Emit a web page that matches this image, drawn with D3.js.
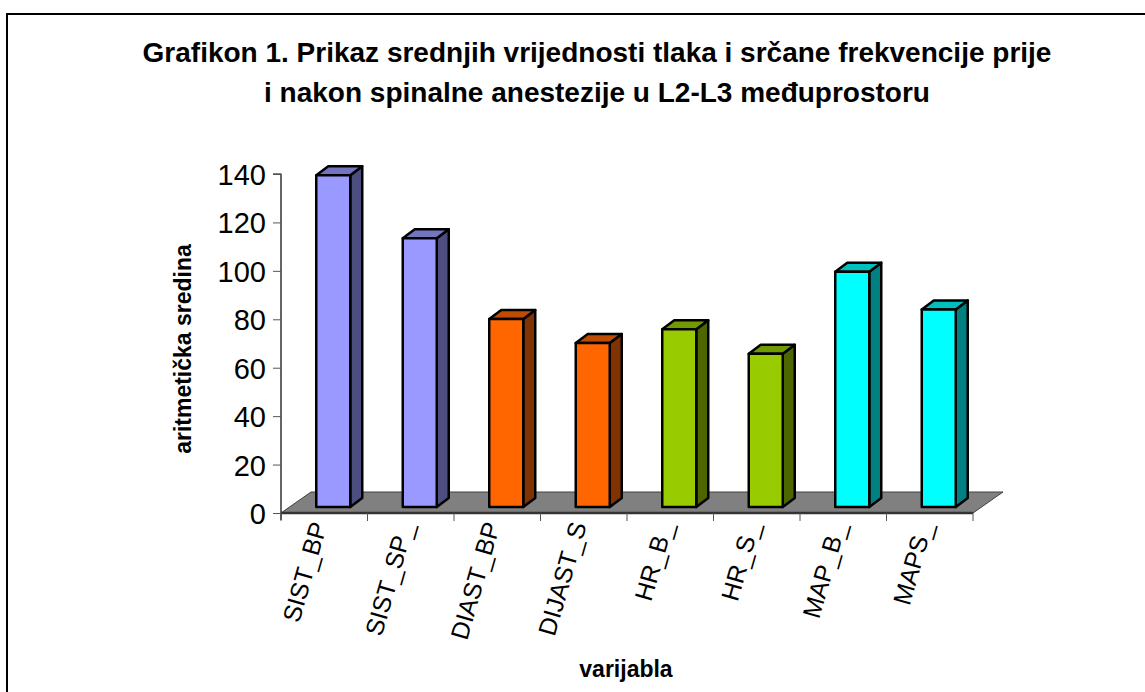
<!DOCTYPE html>
<html>
<head>
<meta charset="utf-8">
<script src="https://cdn.jsdelivr.net/npm/d3@7"></script>
<style>
  body { margin: 0; background: #fff; }
  text { font-family: Arial, "Liberation Sans", sans-serif; }
</style>
</head>
<body>
<div id="chart"></div>
<script>
const categories = ["SIST_BP", "SIST_SP_", "DIAST_BP", "DIJAST_S", "HR_B_", "HR_S_", "MAP_B_", "MAPS_"]
const values = [137, 111, 77.6, 67.7, 73.4, 63.3, 97.2, 81.6]
const yTicks = [0, 20, 40, 60, 80, 100, 120, 140]
const titleLines = ["Grafikon 1. Prikaz srednjih vrijednosti tlaka i srčane frekvencije prije",
                    "i nakon spinalne anestezije u L2-L3 međuprostoru"]

// colour per bar: front, side, top
const palette = [
    {front: "#9999ff", side: "#4d4d80", top: "#7373bf"},
    {front: "#9999ff", side: "#4d4d80", top: "#7373bf"},
    {front: "#ff6600", side: "#803300", top: "#bf4c00"},
    {front: "#ff6600", side: "#803300", top: "#bf4c00"},
    {front: "#99cc00", side: "#4d6600", top: "#739900"},
    {front: "#99cc00", side: "#4d6600", top: "#739900"},
    {front: "#00ffff", side: "#008080", top: "#00bfbf"},
    {front: "#00ffff", side: "#008080", top: "#00bfbf"}
]

const W = 1145, H = 692
const svg = d3.select("#chart").append("svg")
    .attr("width", W)
    .attr("height", H)

// frame
svg.append("rect")
    .attr("x", 7).attr("y", 14)
    .attr("width", W + 20).attr("height", H + 20)
    .attr("fill", "#fff")
    .attr("stroke", "#000")
    .attr("stroke-width", 2)

// title
svg.append("g").selectAll("text")
    .data(titleLines)
    .join("text")
    .attr("x", 597)
    .attr("y", (d, i) => 62 + i * 40)
    .attr("text-anchor", "middle")
    .attr("font-size", 28)
    .attr("font-weight", "bold")
    .text(d => d)

const plotLeft = 281, plotRight = 973, plotBottom = 513, plotTop = 174
// floor depth and bar depth offsets
const depth = {dx: 30, dy: -21}
const barDepth = {dx: 12, dy: -9}
const barShift = {dx: 9, dy: -6}

const xScale = d3.scaleBand()
    .domain(categories)
    .range([plotLeft, plotRight])

const yScale = d3.scaleLinear()
    .domain([0, 140])
    .range([plotBottom, plotTop])

// floor
svg.append("path")
    .attr("d", `M${plotLeft},${plotBottom} L${plotLeft + depth.dx},${plotBottom + depth.dy} L${plotRight + depth.dx},${plotBottom + depth.dy} L${plotRight},${plotBottom} Z`)
    .attr("fill", "#808080")
    .attr("stroke", "#404040")
    .attr("stroke-width", 1)

// Y axis
const yAxis = svg.append("g")
    .attr("transform", `translate(${plotLeft},0)`)
    .call(d3.axisLeft(yScale).tickValues(yTicks).tickSize(8).tickPadding(7))
yAxis.select(".domain").attr("stroke", "#000").attr("stroke-width", 1.2)
    .attr("d", `M-8,${plotTop}H0V${plotBottom + 7}`)
yAxis.selectAll(".tick line").attr("stroke", "#555")
yAxis.selectAll("text")
    .attr("font-size", 29)
    .attr("font-family", "Arial, 'Liberation Sans', sans-serif")
    .attr("fill", "#000")
    .attr("dy", "0.36em")

// X axis
const xAxis = svg.append("g")
    .attr("transform", `translate(0,${plotBottom})`)
xAxis.append("line")
    .attr("x1", plotLeft).attr("x2", plotRight)
    .attr("stroke", "#333").attr("stroke-width", 2.5)
xAxis.selectAll(".xtick")
    .data(d3.range(categories.length + 1))
    .join("line")
    .attr("x1", i => plotLeft + i * xScale.step())
    .attr("x2", i => plotLeft + i * xScale.step())
    .attr("y1", 0).attr("y2", 8)
    .attr("stroke", "#555")

xAxis.selectAll(".xlabel")
    .data(categories)
    .join("text")
    .attr("transform", d => `translate(${xScale(d) + xScale.bandwidth() / 2 + 3},${12}) rotate(-74)`)
    .attr("text-anchor", "end")
    .attr("font-size", 25)
    .text(d => d)

// bars
const barW = 34
const bars = svg.append("g").selectAll("g")
    .data(categories.map((c, i) => ({c, v: values[i], col: palette[i]})))
    .join("g")

bars.each(function(d) {
    const g = d3.select(this)
    const x0 = xScale(d.c) + xScale.bandwidth() / 2 + barShift.dx - barW / 2
    const x1 = x0 + barW
    const yb = plotBottom + barShift.dy
    const yt = yScale(d.v) + barShift.dy
    const ddx = barDepth.dx, ddy = barDepth.dy
    g.append("path")
        .attr("d", `M${x1},${yt} L${x1 + ddx},${yt + ddy} L${x1 + ddx},${yb + ddy} L${x1},${yb} Z`)
        .attr("fill", d.col.side)
    g.append("path")
        .attr("d", `M${x0},${yt} L${x0 + ddx},${yt + ddy} L${x1 + ddx},${yt + ddy} L${x1},${yt} Z`)
        .attr("fill", d.col.top)
    g.append("rect")
        .attr("x", x0).attr("y", yt)
        .attr("width", barW).attr("height", yb - yt)
        .attr("fill", d.col.front)
    g.selectAll("path, rect")
        .attr("stroke", "#000")
        .attr("stroke-width", 2.5)
        .attr("stroke-linejoin", "round")
})

// axis titles
svg.append("text")
    .attr("transform", `translate(191,349) rotate(-90)`)
    .attr("text-anchor", "middle")
    .attr("font-size", 23)
    .attr("font-weight", "bold")
    .text("aritmetička sredina")

svg.append("text")
    .attr("x", 626).attr("y", 677)
    .attr("text-anchor", "middle")
    .attr("font-size", 23)
    .attr("font-weight", "bold")
    .text("varijabla")
</script>
</body>
</html>
